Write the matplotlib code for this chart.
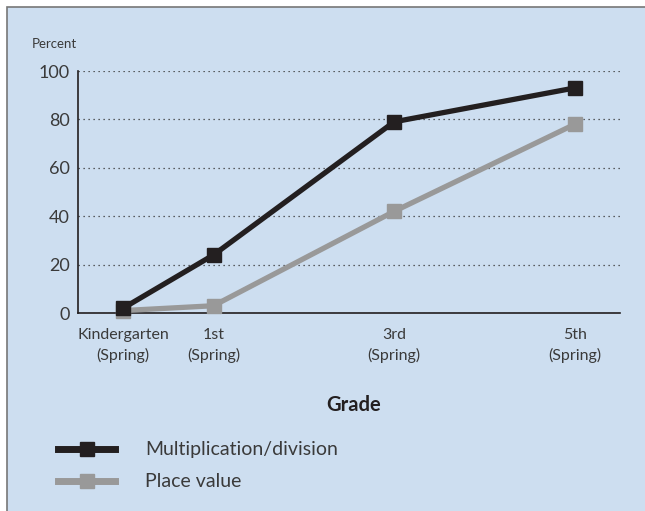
import matplotlib.pyplot as plt
from matplotlib.patches import Rectangle
from matplotlib.lines import Line2D

plt.rcParams['font.family'] = ['Lato', 'DejaVu Sans']

# data
grades = ['Kindergarten\n(Spring)', '1st\n(Spring)', '3rd\n(Spring)', '5th\n(Spring)']
grade_pos = [0, 1, 3, 5]
mult_div = [2, 24, 79, 93]
place_value = [1, 3, 42, 78]
series_names = ['Multiplication/division', 'Place value']

bg = '#cddef0'
dark = '#231f20'
grey = '#999999'
txt = '#3a3a3a'

fig = plt.figure(figsize=(6.45, 5.11), dpi=100)
fig.patch.set_facecolor('white')
# panel with border (left and top visible)
fig.patches.append(Rectangle((7 / 645, -0.1), 1.2, 1 - 7 / 511 + 0.1, transform=fig.transFigure,
                             facecolor=bg, edgecolor='#777777', linewidth=1.2, zorder=0))

ax = fig.add_axes([78 / 645, 1 - 313 / 511, (620 - 78) / 645, (313 - 71) / 511])
ax.set_zorder(2)
ax.set_facecolor('none')

ax.plot(grade_pos, place_value, '-s', color=grey, lw=3.8, markersize=10, clip_on=False, zorder=3)
ax.plot(grade_pos, mult_div, '-s', color=dark, lw=3.8, markersize=10, clip_on=False, zorder=4)

ax.set_xlim(-0.5, 5.5)
ax.set_ylim(0, 100)
ax.set_yticks(range(0, 101, 20))
ax.set_xticks(grade_pos)
ax.set_xticklabels(grades, fontsize=11.5, color=txt, linespacing=1.5)
ax.tick_params(axis='y', length=0, labelsize=13, pad=6, labelcolor=txt)
ax.tick_params(axis='x', length=0, pad=11)
for s in ['top', 'right']:
    ax.spines[s].set_visible(False)
ax.spines['left'].set_color(dark)
ax.spines['bottom'].set_color(dark)
ax.spines['left'].set_linewidth(1.2)
ax.spines['bottom'].set_linewidth(1.2)
ax.yaxis.grid(True, linestyle=(0, (1, 3)), color='#333333', linewidth=0.9)
ax.set_axisbelow(True)

fig.text(32 / 645, 1 - 44 / 511, 'Percent', fontsize=9.5, color=txt, va='center', zorder=3)
fig.text(354 / 645, 1 - 405 / 511, 'Grade', fontsize=14.5, fontweight='bold', color=dark,
         ha='center', va='center', zorder=3)

# legend drawn by hand
for i, (name, col) in enumerate(zip(series_names, [dark, grey])):
    y = 1 - (449 + 32 * i) / 511
    fig.lines.append(Line2D([58 / 645, 115 / 645], [y, y], transform=fig.transFigure,
                            color=col, lw=5, zorder=3))
    fig.lines.append(Line2D([86.5 / 645], [y], transform=fig.transFigure, color=col,
                            marker='s', markersize=10, lw=0, zorder=3))
    fig.text(145 / 645, y, name, fontsize=14, color=txt, va='center', zorder=3)

fig.savefig('out.png', dpi=100)
